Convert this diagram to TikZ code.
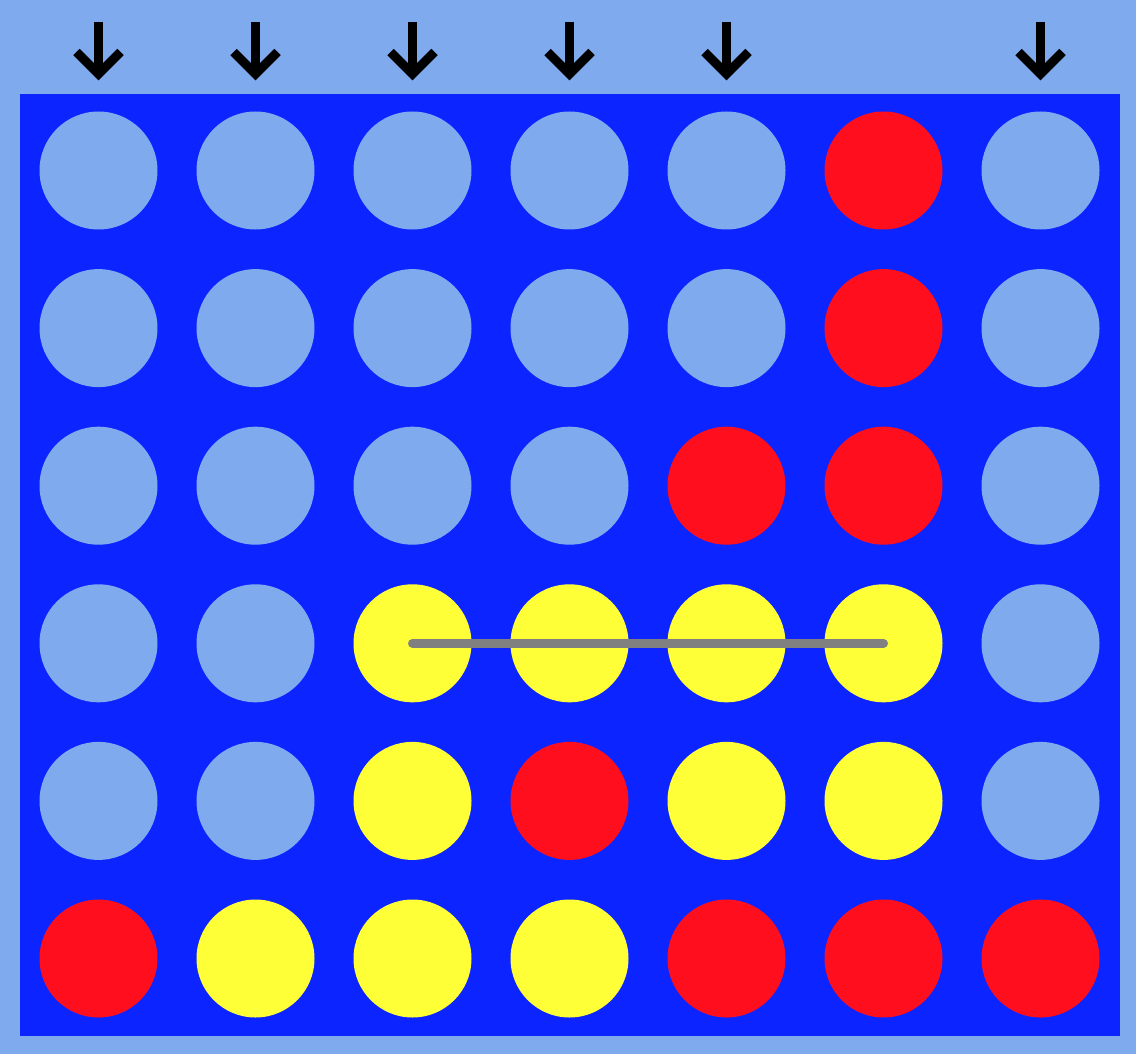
\documentclass[tikz,border=0pt]{standalone}
\usetikzlibrary{arrows}
\definecolor{skyblue}{RGB}{128,170,238}
\definecolor{boardblue}{RGB}{12,36,255}
\definecolor{chipred}{RGB}{255,14,30}
\definecolor{chipyellow}{RGB}{255,255,56}
\definecolor{winline}{RGB}{128,128,128}
\begin{document}
\begin{tikzpicture}[x=1pt,y=-1pt,
    chip/.style={circle,minimum size=118pt,inner sep=0pt},
    droparrow/.style={line width=9pt,miter limit=4}]

    \fill[skyblue] (0,0) rectangle (1136,1054);
    \fill[boardblue] (20,94) rectangle (1120,1036);

    % board: one row per line, top to bottom
    \foreach \row/\colors in {0/{skyblue,skyblue,skyblue,skyblue,skyblue,chipred,skyblue},
                              1/{skyblue,skyblue,skyblue,skyblue,skyblue,chipred,skyblue},
                              2/{skyblue,skyblue,skyblue,skyblue,chipred,chipred,skyblue},
                              3/{skyblue,skyblue,chipyellow,chipyellow,chipyellow,chipyellow,skyblue},
                              4/{skyblue,skyblue,chipyellow,chipred,chipyellow,chipyellow,skyblue},
                              5/{chipred,chipyellow,chipyellow,chipyellow,chipred,chipred,chipred}}
        \foreach \c [count=\col from 0] in \colors
            \node[chip,fill=\c] at ({98.5+157*\col},{170.5+157.6*\row}) (c\row\col) {};

    % columns that still take a chip
    \foreach \col in {0,1,2,3,4,6} {
        \coordinate (top\col) at ({98.5+157*\col},22);
        \coordinate (tip\col) at ({98.5+157*\col},74);
        \draw[droparrow] (top\col) -- (tip\col);
        \draw[droparrow] (tip\col) ++(-22,-22) -- (tip\col) -- ++(22,-22);
    }

    \draw[winline,line width=9pt,line cap=round] (c32.center) -- (c35.center);
        \end{tikzpicture}
\end{document}
